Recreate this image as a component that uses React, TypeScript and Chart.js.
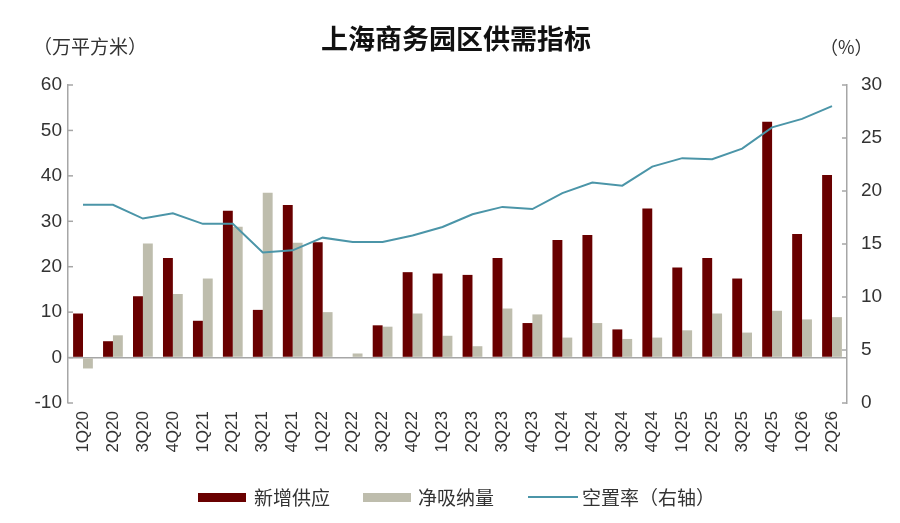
import React, { useEffect, useRef } from "react";
import { Chart, registerables } from "chart.js";

Chart.register(...registerables);

const categories = [
  "1Q20", "2Q20", "3Q20", "4Q20", "1Q21", "2Q21", "3Q21", "4Q21", "1Q22", "2Q22",
  "3Q22", "4Q22", "1Q23", "2Q23", "3Q23", "4Q23", "1Q24", "2Q24", "3Q24", "4Q24",
  "1Q25", "2Q25", "3Q25", "4Q25", "1Q26", "2Q26",
];
const newSupply = [
  9.7, 3.6, 13.5, 21.9, 8.1, 32.3, 10.5, 33.6, 25.4, 0,
  7.1, 18.8, 18.5, 18.2, 21.9, 7.6, 25.9, 27.0, 6.2, 32.8,
  19.8, 21.9, 17.4, 51.9, 27.2, 40.2,
];
const netAbsorption = [
  -2.4, 4.9, 25.1, 14.0, 17.4, 28.8, 36.3, 25.3, 10.0, 0.9,
  6.8, 9.7, 4.8, 2.5, 10.8, 9.5, 4.4, 7.6, 4.1, 4.4,
  6.0, 9.7, 5.5, 10.3, 8.4, 8.9,
];
const vacancyRate = [
  18.7, 18.7, 17.4, 17.9, 16.9, 16.9, 14.2, 14.4, 15.6, 15.2,
  15.2, 15.8, 16.6, 17.8, 18.5, 18.3, 19.8, 20.8, 20.5, 22.3,
  23.1, 23.0, 24.0, 26.0, 26.8, 28.0,
];

const leftTicks = { min: -10, max: 60, step: 10 };
const rightTicks = { min: 0, max: 30, step: 5 };

const title = "上海商务园区供需指标";
const leftUnit = "（万平方米）";
const rightUnit = "（%）";
const legendLabels = ["新增供应", "净吸纳量", "空置率（右轴）"];

const SUPPLY_COLOR = "#690000";
const NET_COLOR = "#BEBDAD";
const LINE_COLOR = "#4B95A8";
const AXIS_COLOR = "#A6A6A6";
const TEXT_COLOR = "#333333";
const FONT = "'Liberation Sans', 'Noto Sans CJK SC', sans-serif";
const CJK_FONT = "'Noto Sans CJK SC', 'Liberation Sans', sans-serif";

const innerTicks = {
  id: "innerTicks",
  afterDraw(chart: any) {
    const ctx = chart.ctx;
    const y = chart.scales.y;
    const y1 = chart.scales.y1;
    ctx.save();
    ctx.strokeStyle = AXIS_COLOR;
    ctx.lineWidth = 1.5;
    y.ticks.forEach((t: any) => {
      const p = y.getPixelForValue(t.value);
      ctx.beginPath();
      ctx.moveTo(y.right, p);
      ctx.lineTo(y.right + 5, p);
      ctx.stroke();
    });
    y1.ticks.forEach((t: any) => {
      const p = y1.getPixelForValue(t.value);
      ctx.beginPath();
      ctx.moveTo(y1.left, p);
      ctx.lineTo(y1.left - 5, p);
      ctx.stroke();
    });
    ctx.restore();
  },
};

export default function App() {
  const canvasRef = useRef<HTMLCanvasElement | null>(null);

  useEffect(() => {
    const canvas = canvasRef.current;
    if (!canvas) return;
    const chart = new Chart(canvas, {
      type: "bar",
      data: {
        labels: categories,
        datasets: [
          {
            type: "line",
            label: legendLabels[2],
            data: vacancyRate,
            yAxisID: "y1",
            borderColor: LINE_COLOR,
            backgroundColor: LINE_COLOR,
            borderWidth: 2,
            pointRadius: 0,
            tension: 0,
            order: 0,
          } as any,
          {
            type: "bar",
            label: legendLabels[0],
            data: newSupply,
            yAxisID: "y",
            backgroundColor: SUPPLY_COLOR,
            categoryPercentage: 0.66,
            barPercentage: 1,
            order: 1,
          },
          {
            type: "bar",
            label: legendLabels[1],
            data: netAbsorption,
            yAxisID: "y",
            backgroundColor: NET_COLOR,
            categoryPercentage: 0.66,
            barPercentage: 1,
            order: 2,
          },
        ],
      },
      options: {
        animation: false,
        responsive: false,
        maintainAspectRatio: false,
        layout: { padding: { top: 85, left: 0, right: 0, bottom: 0 } },
        plugins: {
          legend: { display: false },
          title: { display: false },
          tooltip: { enabled: false },
        },
        scales: {
          x: {
            position: "bottom",
            offset: true,
            grid: { display: false, drawTicks: false },
            border: { display: false },
            ticks: {
              autoSkip: false,
              minRotation: 90,
              maxRotation: 90,
              padding: 8,
              color: TEXT_COLOR,
              font: { family: FONT, size: 17 },
            },
            afterFit: (s: any) => {
              s.height = 120;
            },
          },
          y: {
            position: "left",
            min: leftTicks.min,
            max: leftTicks.max,
            ticks: {
              stepSize: leftTicks.step,
              padding: 6,
              color: TEXT_COLOR,
              font: { family: FONT, size: 19 },
            },
            grid: {
              drawTicks: false,
              lineWidth: 1.5,
              color: (c: any) => (c.tick && c.tick.value === 0 ? AXIS_COLOR : "rgba(0,0,0,0)"),
            },
            border: { display: true, color: AXIS_COLOR, width: 1.5 },
            afterFit: (s: any) => {
              s.width = 68;
            },
          },
          y1: {
            position: "right",
            min: rightTicks.min,
            max: rightTicks.max,
            ticks: {
              stepSize: rightTicks.step,
              padding: 14,
              color: TEXT_COLOR,
              font: { family: FONT, size: 19 },
            },
            grid: { display: false, drawTicks: false },
            border: { display: true, color: AXIS_COLOR, width: 1.5 },
            afterFit: (s: any) => {
              s.width = 53;
            },
          },
        },
      },
      plugins: [innerTicks],
    });
    return () => chart.destroy();
  }, []);

  const legendText: React.CSSProperties = {
    position: "absolute",
    top: 484,
    fontFamily: CJK_FONT,
    fontSize: 19,
    color: TEXT_COLOR,
    lineHeight: "26px",
    whiteSpace: "nowrap",
  };

  return (
    <div style={{ position: "absolute", left: 0, top: 0, width: 900, height: 523, background: "#fff" }}>
      <canvas ref={canvasRef} width={900} height={523} style={{ position: "absolute", left: 0, top: 0, width: 900, height: 523 }} />
      <div
        style={{
          position: "absolute",
          top: 20,
          left: 306,
          width: 300,
          textAlign: "center",
          fontFamily: CJK_FONT,
          fontWeight: 700,
          fontSize: 27,
          lineHeight: "36px",
          color: "#111",
          whiteSpace: "nowrap",
        }}
      >
        {title}
      </div>
      <div style={{ position: "absolute", top: 33, left: 33, fontFamily: CJK_FONT, fontSize: 19, lineHeight: "26px", color: TEXT_COLOR, whiteSpace: "nowrap" }}>
        {leftUnit}
      </div>
      <div style={{ position: "absolute", top: 33, left: 820, fontFamily: CJK_FONT, fontSize: 18, lineHeight: "26px", color: TEXT_COLOR, whiteSpace: "nowrap" }}>
        {rightUnit}
      </div>
      <div style={{ position: "absolute", top: 493, left: 198, width: 48, height: 9, background: SUPPLY_COLOR }} />
      <div style={{ ...legendText, left: 254 }}>{legendLabels[0]}</div>
      <div style={{ position: "absolute", top: 493, left: 363, width: 48, height: 9, background: NET_COLOR }} />
      <div style={{ ...legendText, left: 418 }}>{legendLabels[1]}</div>
      <div style={{ position: "absolute", top: 496, left: 528, width: 50, height: 2, background: LINE_COLOR }} />
      <div style={{ ...legendText, left: 582 }}>{legendLabels[2]}</div>
    </div>
  );
}
